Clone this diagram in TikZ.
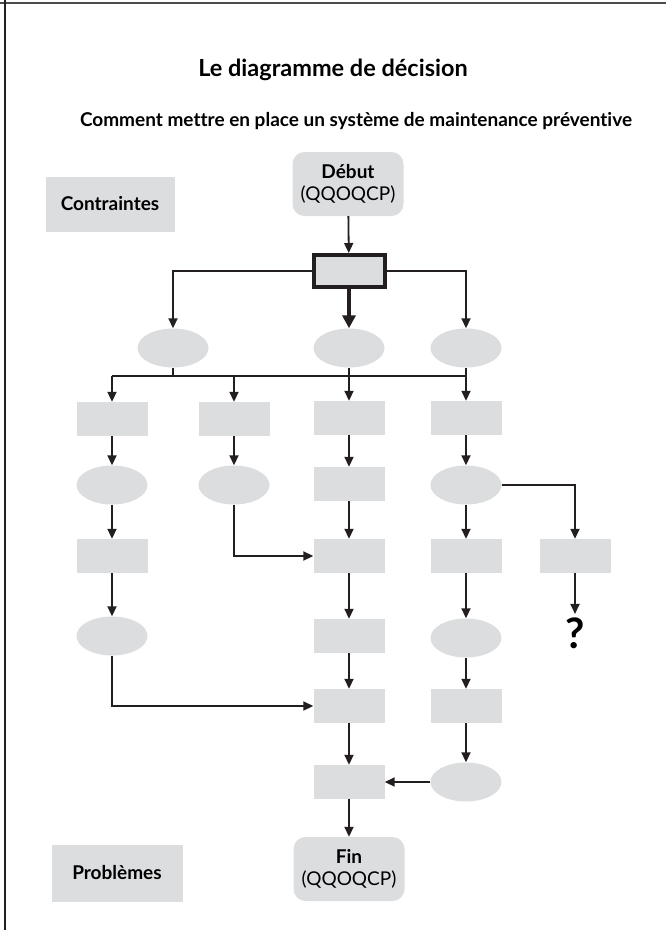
\documentclass[tikz,border=0pt]{standalone}
\usepackage{fontspec}
\setmainfont{Lato}[Ligatures=NoCommon]
\usepackage{tikz}
\usetikzlibrary{arrows.meta,shapes.geometric}

\definecolor{boxgray}{HTML}{DCDDDF}
\definecolor{ink}{HTML}{231F20}

\begin{document}
\begin{tikzpicture}[x=1pt,y=-1pt,font=\bfseries\fontsize{19}{22}\selectfont,
  box/.style={fill=boxgray,minimum width=71,minimum height=34,inner sep=0},
  oval/.style={ellipse,fill=boxgray,minimum width=71,minimum height=39,inner sep=0},
  term/.style={fill=boxgray,rounded corners=12pt,minimum width=111,minimum height=64,align=center,inner sep=0},
  flow/.style={draw=ink,line width=1.8pt,-{Triangle[length=10pt,width=9pt]}},
  wire/.style={draw=ink,line width=1.8pt}]
\useasboundingbox (0,0) rectangle (666,930);
\draw[line width=2.5pt,black!70] (0,3) -- (666,3);
\draw[line width=1.6pt,ink] (5,0) -- (5,930);

\node (title) at (333,70) {\fontsize{23.5}{26}\selectfont Le diagramme de décision};
\node (subtitle) at (356,121) {Comment mettre en place un système de maintenance préventive};

\node[box,minimum width=129,minimum height=55] (contr) at (110,204) {Contraintes};
\node[box,minimum width=131,minimum height=57] (probl) at (117,873) {Problèmes};

\node[term] (debut) at (348,184) {Début\\\mdseries(QQOQCP)};
\node[box,draw=ink,line width=4pt,minimum width=71,minimum height=32] (choix) at (349,271) {};

% first level
\node[oval] (o1) at (173,348) {};
\node[oval] (o2) at (349,348) {};
\node[oval] (o3) at (466,348) {};

% columns, top to bottom
\node[box]  (n12) at (112,419) {};
\node[oval] (n13) at (112,485) {};
\node[box]  (n14) at (112,556) {};
\node[oval] (n15) at (112,636) {};

\node[box]  (n22) at (234,419) {};
\node[oval] (n23) at (234,485) {};

\node[box]  (n32) at (349,418) {};
\node[box]  (n33) at (349,484) {};
\node[box]  (n34) at (349,556) {};
\node[box]  (n35) at (349,636) {};
\node[box]  (n36) at (349,706) {};
\node[box]  (n37) at (349,782) {};

\node[box]  (n42) at (466,418) {};
\node[oval] (n43) at (466,485) {};
\node[box]  (n44) at (466,556) {};
\node[oval] (n45) at (466,638) {};
\node[box]  (n46) at (466,706) {};
\node[oval] (n47) at (466,782) {};

\node[box]  (n54) at (575,556) {};
\node (quest) at (575,633) {\fontsize{42}{44}\selectfont ?};

\node[term] (fin) at (349,869) {Fin\\\mdseries(QQOQCP)};

% connectors
\draw[flow] (debut) -- (choix);
\draw[flow] (choix.west) -| (o1.north);
\draw[flow] (choix.east) -| (o3.north);
\draw[draw=ink,line width=4pt,-{Triangle[length=13pt,width=13pt]}] (choix) -- (o2);

\coordinate (busL) at (112,376);
\coordinate (busR) at (466,376);
\draw[wire] (o1) -- (o1 |- busL);
\draw[wire] (busL) -- (busR);
\draw[flow] (busL) -- (n12);
\draw[flow] (n22 |- busL) -- (n22);
\draw[flow] (o2) -- (n32);
\draw[flow] (o3) -- (n42);

\draw[flow] (n12) -- (n13);
\draw[flow] (n13) -- (n14);
\draw[flow] (n14) -- (n15);
\draw[flow] (n15.south) |- (n36.west);

\draw[flow] (n22) -- (n23);
\draw[flow] (n23.south) |- (n34.west);

\draw[flow] (n32) -- (n33);
\draw[flow] (n33) -- (n34);
\draw[flow] (n34) -- (n35);
\draw[flow] (n35) -- (n36);
\draw[flow] (n36) -- (n37);
\draw[flow] (n37) -- (fin);

\draw[flow] (n42) -- (n43);
\draw[flow] (n43) -- (n44);
\draw[flow] (n44) -- (n45);
\draw[flow] (n45) -- (n46);
\draw[flow] (n46) -- (n47);
\draw[flow] (n47) -- (n37);

\draw[flow] (n43.east) -| (n54.north);
\draw[flow] (n54) -- (quest);
\end{tikzpicture}
\end{document}
